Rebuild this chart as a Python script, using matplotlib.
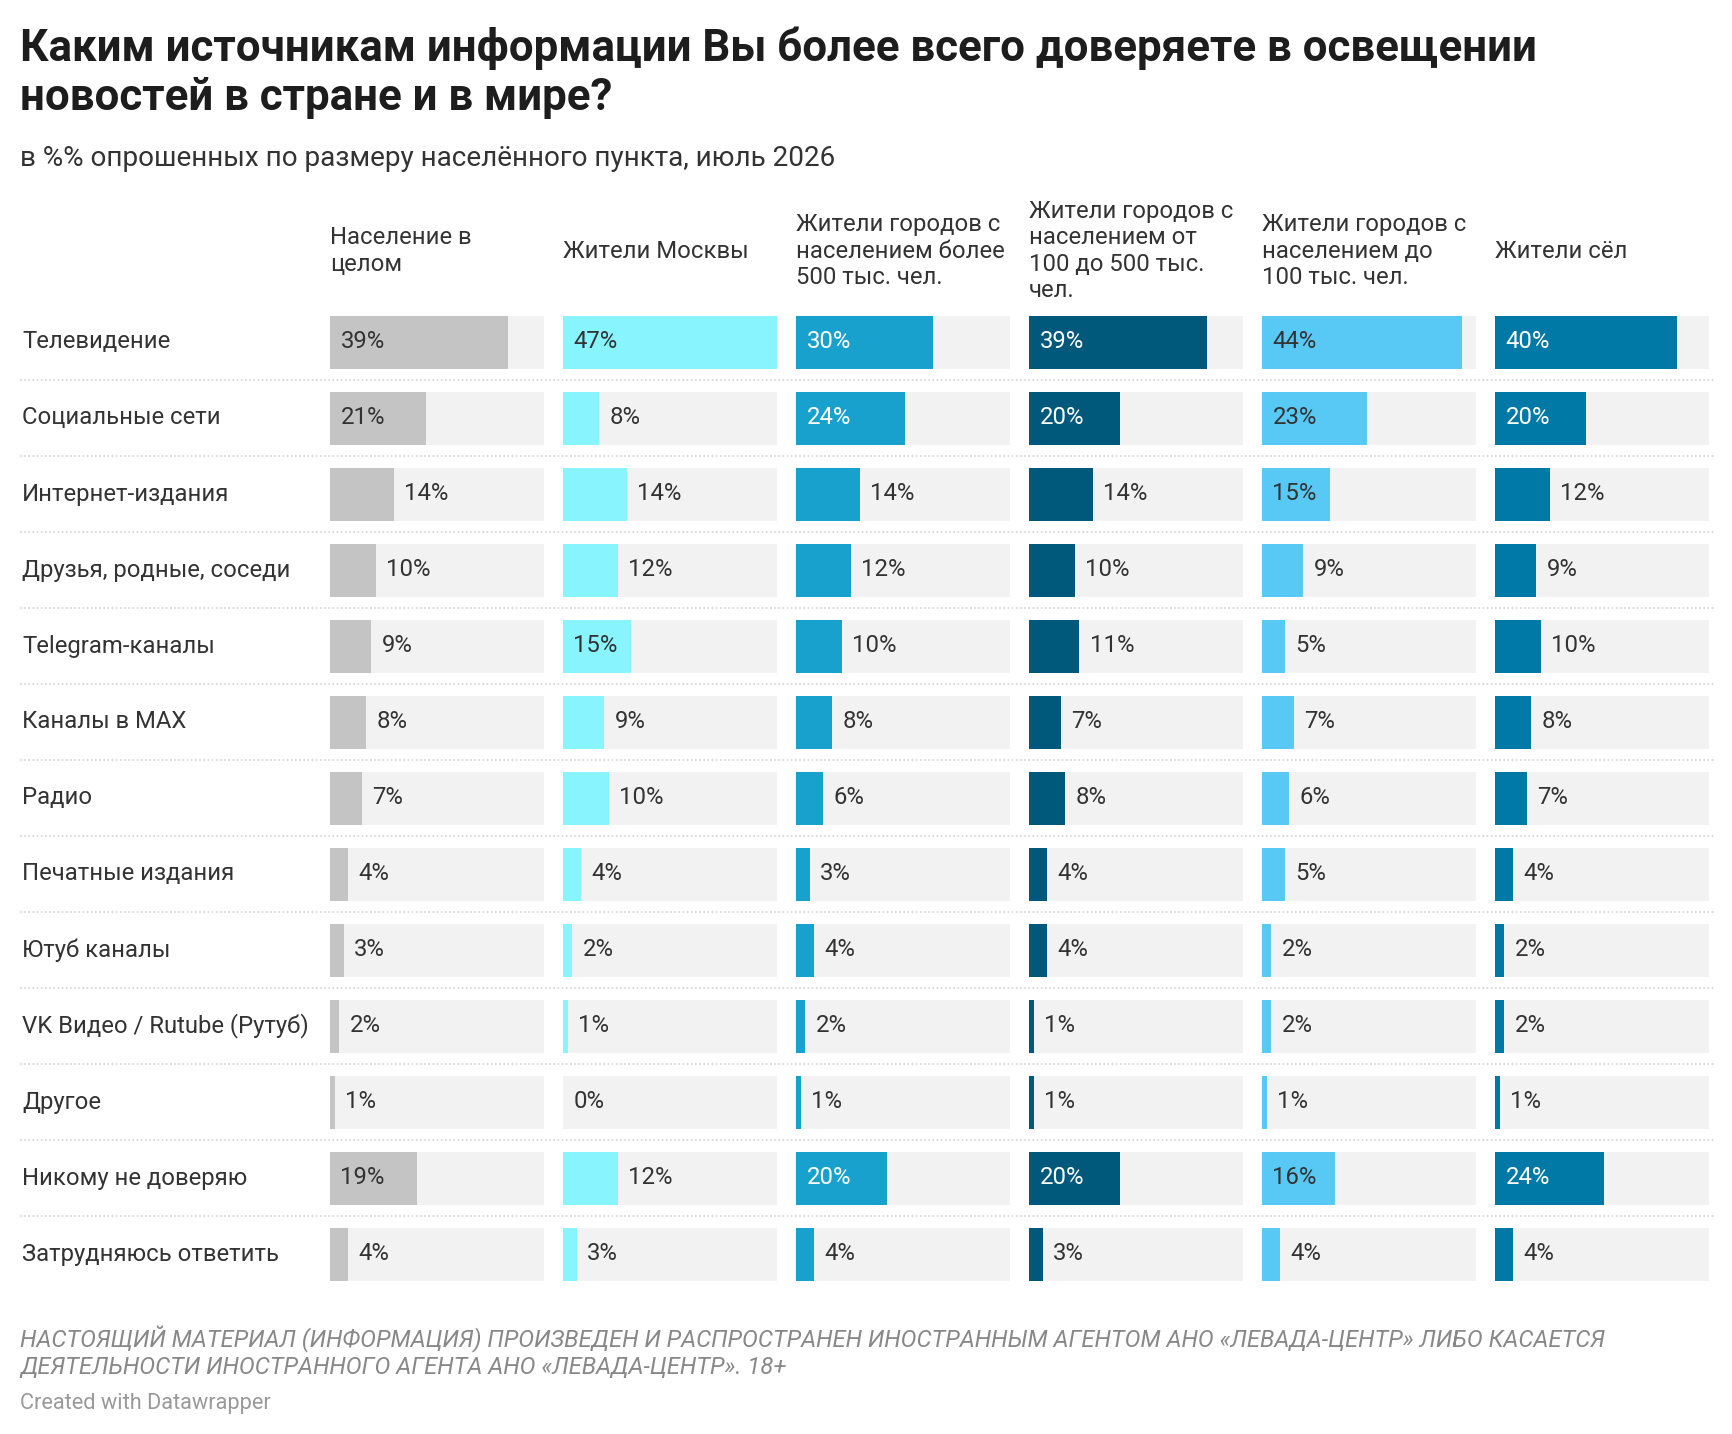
import matplotlib
matplotlib.use('Agg')
import matplotlib.pyplot as plt
from matplotlib import transforms
from matplotlib.lines import Line2D

plt.rcParams['font.family'] = ['Roboto', 'DejaVu Sans']

categories = ["Телевидение", "Социальные сети", "Интернет-издания", "Друзья, родные, соседи",
              "Telegram-каналы", "Каналы в MAX", "Радио", "Печатные издания", "Ютуб каналы",
              "VK Видео / Rutube (Рутуб)", "Другое", "Никому не доверяю", "Затрудняюсь ответить"]
groups = ["Население в\nцелом", "Жители Москвы", "Жители городов с\nнаселением более\n500 тыс. чел.",
          "Жители городов с\nнаселением от\n100 до 500 тыс.\nчел.", "Жители городов с\nнаселением до\n100 тыс. чел.",
          "Жители сёл"]
vals_total = [39, 21, 14, 10, 9, 8, 7, 4, 3, 2, 1, 19, 4]
vals_moscow = [47, 8, 14, 12, 15, 9, 10, 4, 2, 1, 0, 12, 3]
vals_500plus = [30, 24, 14, 12, 10, 8, 6, 3, 4, 2, 1, 20, 4]
vals_100_500 = [39, 20, 14, 10, 11, 7, 8, 4, 4, 1, 1, 20, 3]
vals_100minus = [44, 23, 15, 9, 5, 7, 6, 5, 2, 2, 1, 16, 4]
vals_villages = [40, 20, 12, 9, 10, 8, 7, 4, 2, 2, 1, 24, 4]
series = [vals_total, vals_moscow, vals_500plus, vals_100_500, vals_100minus, vals_villages]

colors = ["#c4c4c4", "#88f5fe", "#18a1cd", "#00587b", "#58c9f5", "#0079a6"]
inside_text = ["#333333", "#333333", "#ffffff", "#ffffff", "#333333", "#ffffff"]

W, H = 1732, 1434
fig = plt.figure(figsize=(W / 100, H / 100), dpi=100)
fig.patch.set_facecolor('white')

def fx(x):
    return x / W

def fy(y):
    return 1 - y / H

BODY = 17.2

# layout in pixels
col_x0 = 330
col_pitch = 233.0
col_w = 214
row_top0 = 315.5
row_pitch = 76.0
bar_h_px = 53
n = len(categories)
ax_top = row_top0 - (row_pitch - bar_h_px) / 2
ax_h = n * row_pitch
bar_h = bar_h_px / row_pitch
xmax = 47

axes = []
for j, (vals, col) in enumerate(zip(series, colors)):
    x0 = col_x0 + j * col_pitch
    ax = fig.add_axes([fx(x0), fy(ax_top + ax_h), col_w / W, ax_h / H])
    ax.set_xlim(0, xmax)
    ax.set_ylim(n - 0.5, -0.5)
    ax.axis('off')
    ys = list(range(n))
    ax.barh(ys, [xmax] * n, height=bar_h, color="#f2f2f2", linewidth=0)
    ax.barh(ys, vals, height=bar_h, color=col, linewidth=0)
    for i, v in enumerate(vals):
        if v >= 15:
            ax.annotate(f"{v}%", (0, i), xytext=(7.5, 0), textcoords='offset points',
                        va='center', ha='left', fontsize=BODY, color=inside_text[j])
        else:
            ax.annotate(f"{v}%", (v, i), xytext=(7.5, 0), textcoords='offset points',
                        va='center', ha='left', fontsize=BODY, color="#333333")
    # header
    fig.text(fx(x0), fy(251), groups[j], ha='left', va='center', fontsize=BODY,
             color="#333333", linespacing=1.2)
    axes.append(ax)

ax0 = axes[0]
tr = transforms.blended_transform_factory(fig.transFigure, ax0.transData)
for i, c in enumerate(categories):
    fig.text(fx(22), i, c, transform=tr, ha='left', va='center', fontsize=BODY, color="#333333")
for i in range(n - 1):
    fig.add_artist(Line2D([fx(20), fx(1715)], [i + 0.5, i + 0.5], transform=tr,
                          color="#d2d2d2", linewidth=1.2, linestyle=(0, (1, 1.5))))

fig.text(fx(20), fy(48), "Каким источникам информации Вы более всего доверяете в освещении",
         ha='left', va='center', fontsize=31.6, fontweight='bold', color="#1d1d1d")
fig.text(fx(20), fy(98), "новостей в стране и в мире?",
         ha='left', va='center', fontsize=31.6, fontweight='bold', color="#1d1d1d")
fig.text(fx(20), fy(159), "в %% опрошенных по размеру населённого пункта, июль 2026",
         ha='left', va='center', fontsize=20.1, color="#333333")

fig.text(fx(20), fy(1339), "НАСТОЯЩИЙ МАТЕРИАЛ (ИНФОРМАЦИЯ) ПРОИЗВЕДЕН И РАСПРОСТРАНЕН ИНОСТРАННЫМ АГЕНТОМ АНО «ЛЕВАДА-ЦЕНТР» ЛИБО КАСАЕТСЯ",
         ha='left', va='center', fontsize=17.1, style='italic', color="#888888")
fig.text(fx(20), fy(1368), "ДЕЯТЕЛЬНОСТИ ИНОСТРАННОГО АГЕНТА АНО «ЛЕВАДА-ЦЕНТР». 18+",
         ha='left', va='center', fontsize=17.1, style='italic', color="#888888")
fig.text(fx(20), fy(1404), "Created with Datawrapper",
         ha='left', va='center', fontsize=15.7, color="#999999")

fig.savefig("out.png", dpi=100, facecolor='white')
